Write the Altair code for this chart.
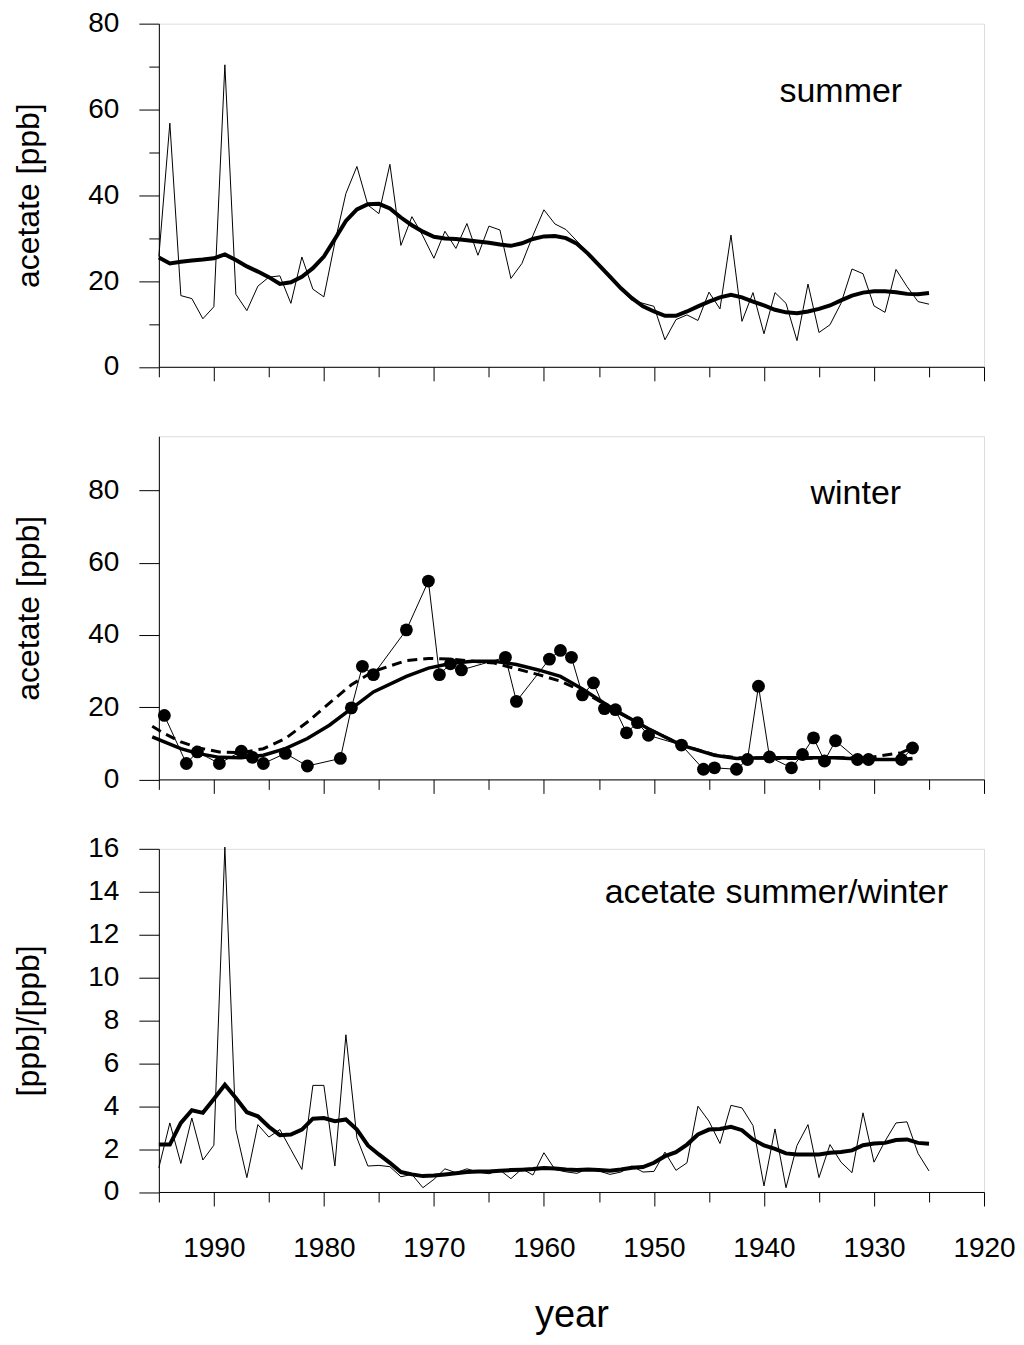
import altair as alt
import pandas as pd

# ---------------- data ----------------
years = list(range(1995, 1924, -1))  # 1995 ... 1925

summer_raw = [25.7, 56.8, 16.6, 15.9, 11.2, 14.0, 70.4, 16.9, 13.1, 18.8,
              20.9, 21.2, 14.8, 25.6, 18.1, 16.3, 29.0, 40.4, 46.7, 37.7,
              35.7, 47.2, 28.3, 35.0, 30.5, 25.3, 31.6, 27.6, 33.4, 26.0,
              32.8, 31.9, 20.6, 24.1, 30.6, 36.6, 33.3, 32.0, 29.3, 26.4,
              23.4, 20.6, 17.9, 15.5, 14.8, 14.1, 6.3, 11.0, 12.1, 10.8,
              17.4, 13.5, 30.7, 10.6, 17.3, 7.7, 17.3, 14.8, 6.1, 19.3,
              8.0, 9.8, 14.8, 22.8, 21.7, 14.2, 12.7, 22.7, 18.7, 15.2,
              14.6]
summer_smooth = [25.5, 24.1, 24.5, 24.8, 25.0, 25.3, 26.2, 24.9, 23.4, 22.2,
                 20.9, 19.3, 19.7, 21.0, 23.0, 25.7, 29.8, 34.0, 36.7, 37.9,
                 38.0, 36.9, 34.8, 33.0, 31.5, 30.3, 29.9, 29.8, 29.5, 29.2,
                 28.9, 28.5, 28.2, 28.8, 29.8, 30.4, 30.5, 30.0, 28.7, 26.4,
                 23.7, 21.0, 18.3, 16.0, 14.1, 12.9, 11.9, 11.9, 12.9, 14.1,
                 15.2, 16.2, 16.8, 16.2, 15.2, 14.3, 13.3, 12.7, 12.5, 12.9,
                 13.5, 14.3, 15.5, 16.6, 17.3, 17.6, 17.6, 17.4, 17.0, 16.9,
                 17.2]

winter_years = [1994.5, 1992.5, 1991.5, 1989.5, 1987.5, 1986.5, 1985.5, 1983.5,
                1981.5, 1978.5, 1977.5, 1976.5, 1975.5, 1972.5, 1970.5, 1969.5,
                1968.5, 1967.5, 1963.5, 1962.5, 1959.5, 1958.5, 1957.5, 1956.5,
                1955.5, 1954.5, 1953.5, 1952.5, 1951.5, 1950.5, 1947.5, 1945.5,
                1944.5, 1942.5, 1941.5, 1940.5, 1939.5, 1937.5, 1936.5, 1935.5,
                1934.5, 1933.5, 1931.5, 1930.5, 1927.5, 1926.5]
winter_vals = [17.7, 4.4, 7.6, 4.4, 7.8, 6.1, 4.4, 7.2,
               3.7, 5.8, 19.8, 31.3, 29.0, 41.4, 54.9, 29.0,
               32.0, 30.3, 33.8, 21.6, 33.3, 35.7, 33.8, 23.4,
               26.7, 19.6, 19.3, 12.9, 15.7, 12.2, 9.5, 2.8,
               3.2, 2.8, 5.5, 25.8, 6.2, 3.2, 6.9, 11.5,
               5.1, 10.7, 5.5, 5.5, 5.5, 8.7]

fit_years = [1995.6, 1994.5, 1993.0, 1991.5, 1989.5, 1987.5, 1985.5, 1983.5,
             1981.5, 1979.5, 1977.5, 1975.5, 1972.5, 1970.5, 1968.5, 1966.5,
             1964.5, 1962.5, 1960.5, 1958.5, 1956.5, 1953.5, 1950.5, 1947.5,
             1944.5, 1942.5, 1939.5, 1936.5, 1933.5, 1930.5, 1927.5, 1926.5]
winter_fit_solid = [11.8, 10.4, 8.5, 7.2, 6.1, 6.0, 6.7, 8.5,
                    11.3, 15.0, 19.6, 24.2, 28.5, 30.8, 32.1, 32.7,
                    32.7, 31.8, 30.3, 28.5, 25.0, 19.1, 14.0, 9.5,
                    6.7, 5.8, 6.0, 6.0, 6.0, 5.5, 5.5, 5.8]
winter_fit_dashed = [14.7, 12.7, 10.4, 8.8, 7.6, 7.4, 8.5, 11.3,
                     15.9, 21.1, 26.2, 29.9, 32.9, 33.5, 33.3, 32.7,
                     32.2, 30.6, 29.0, 27.2, 24.4, 19.0, 14.0, 9.5,
                     6.8, 6.0, 5.8, 5.8, 6.0, 6.0, 7.4, 8.8]

ratio_raw = [1.13, 3.22, 1.33, 3.45, 1.49, 2.18, 16.08, 2.91, 0.67, 3.14,
             2.56, 2.91, 1.98, 1.05, 4.97, 4.97, 1.21, 7.33, 2.52, 1.21,
             1.24, 1.18, 0.71, 0.82, 0.20, 0.59, 1.08, 0.90, 1.08, 0.93,
             0.85, 1.02, 0.62, 1.08, 0.79, 1.83, 1.05, 0.94, 0.87, 1.08,
             0.98, 0.82, 0.93, 1.21, 0.93, 0.96, 1.86, 1.01, 1.36, 4.00,
             3.30, 2.26, 4.04, 3.92, 3.10, 0.28, 2.94, 0.20, 2.17, 3.14,
             0.67, 2.21, 1.39, 0.90, 3.69, 1.39, 2.37, 3.22, 3.27, 1.80,
             0.98]
ratio_smooth = [2.21, 2.21, 3.22, 3.81, 3.69, 4.34, 5.00, 4.38, 3.72, 3.53,
                3.04, 2.65, 2.68, 2.91, 3.42, 3.45, 3.30, 3.38, 2.91, 2.17,
                1.75, 1.36, 0.93, 0.82, 0.74, 0.77, 0.82, 0.87, 0.93, 0.96,
                0.96, 0.99, 1.02, 1.04, 1.07, 1.12, 1.10, 1.05, 1.02, 1.05,
                1.02, 0.99, 1.05, 1.13, 1.16, 1.36, 1.67, 1.86, 2.21, 2.68,
                2.91, 2.94, 3.04, 2.88, 2.45, 2.17, 2.01, 1.80, 1.75, 1.75,
                1.75, 1.83, 1.86, 1.94, 2.18, 2.26, 2.29, 2.42, 2.45, 2.29,
                2.25]

x_ticks = list(range(1995, 1919, -5))
y_ticks_top = list(range(0, 81, 10))
y_ticks_mid = list(range(0, 91, 10))
y_ticks_bot = list(range(0, 17, 1))

# ---------------- layout / style ----------------
W = 826
H = 343.5
FONT = "Liberation Sans"

x_scale = alt.Scale(domain=[1995, 1920], nice=False, zero=False)


def x_axis(show_labels):
    kw = dict(values=x_ticks,
              tickSize={"condition": {"test": "datum.value % 10 === 0", "value": 14}, "value": 10},
              grid=False, domainColor="black", tickColor="black",
              labelFlush=False, labelOverlap=False)
    if show_labels:
        kw.update(labelExpr="datum.value % 10 === 0 ? format(datum.value, 'd') : ''",
                  labelFontSize=28, labelPadding=29, labelFont=FONT, labelColor="black",
                  titleFontSize=38, titleFont=FONT, titleFontWeight="normal",
                  titleBaseline="alphabetic", titleY=135, titleColor="black")
    else:
        kw.update(labels=False)
    return alt.Axis(**kw)


def y_axis(values, major):
    return alt.Axis(values=values,
                    tickSize={"condition": {"test": f"datum.value % {major} === 0", "value": 20}, "value": 10},
                    labelExpr=f"datum.value % {major} === 0 ? datum.label : ''",
                    labelPadding=20, labelFontSize=28, labelFont=FONT, labelColor="black",
                    labelFlush=False, labelOverlap=False, grid=False,
                    domainColor="black", tickColor="black",
                    titleFontSize=32, titleFont=FONT, titleFontWeight="normal", titleColor="black",
                    titleAngle=270, titleBaseline="alphabetic", titleX=-120)


def label(text, px, py):
    return alt.Chart(pd.DataFrame({"t": [text]})).mark_text(
        align="right", baseline="alphabetic", fontSize=34, font=FONT, color="black"
    ).encode(x=alt.value(px), y=alt.value(py), text="t:N")


# ---------------- summer ----------------
summer_df = pd.DataFrame({"year": years, "raw": summer_raw, "smooth": summer_smooth})
ys_top = alt.Scale(domain=[0, 80], nice=False, zero=False)
sb = alt.Chart(summer_df)
top = alt.layer(
    sb.mark_line(color="black", strokeWidth=1).encode(
        x=alt.X("year:Q", scale=x_scale, axis=x_axis(False), title=None),
        y=alt.Y("raw:Q", scale=ys_top, axis=y_axis(y_ticks_top, 20), title="acetate [ppb]")),
    sb.mark_line(color="black", strokeWidth=4).encode(
        x=alt.X("year:Q", scale=x_scale), y=alt.Y("smooth:Q", scale=ys_top)),
    label("summer", 744, 78),
).properties(width=W, height=H)

# ---------------- winter ----------------
winter_df = pd.DataFrame({"year": winter_years, "val": winter_vals})
fit_df = pd.DataFrame({"year": fit_years, "solid": winter_fit_solid, "dashed": winter_fit_dashed})
ys_mid = alt.Scale(domain=[0, 95], nice=False, zero=False)
wb = alt.Chart(winter_df)
fb = alt.Chart(fit_df)
mid = alt.layer(
    wb.mark_line(color="black", strokeWidth=1).encode(
        x=alt.X("year:Q", scale=x_scale, axis=x_axis(False), title=None),
        y=alt.Y("val:Q", scale=ys_mid, axis=y_axis(y_ticks_mid, 20), title="acetate [ppb]")),
    fb.mark_line(color="black", strokeWidth=3, strokeDash=[10, 6]).encode(
        x=alt.X("year:Q", scale=x_scale), y=alt.Y("dashed:Q", scale=ys_mid)),
    fb.mark_line(color="black", strokeWidth=3.5).encode(
        x=alt.X("year:Q", scale=x_scale), y=alt.Y("solid:Q", scale=ys_mid)),
    wb.mark_circle(color="black", opacity=1, size=165).encode(
        x=alt.X("year:Q", scale=x_scale), y=alt.Y("val:Q", scale=ys_mid)),
    label("winter", 743, 68),
).properties(width=W, height=H)

# ---------------- ratio ----------------
ratio_df = pd.DataFrame({"year": years, "raw": ratio_raw, "smooth": ratio_smooth})
ys_bot = alt.Scale(domain=[0, 16], nice=False, zero=False)
rb = alt.Chart(ratio_df)
bot = alt.layer(
    rb.mark_line(color="black", strokeWidth=1).encode(
        x=alt.X("year:Q", scale=x_scale, axis=x_axis(True), title="year"),
        y=alt.Y("raw:Q", scale=ys_bot, axis=y_axis(y_ticks_bot, 2), title="[ppb]/[ppb]")),
    rb.mark_line(color="black", strokeWidth=4).encode(
        x=alt.X("year:Q", scale=x_scale), y=alt.Y("smooth:Q", scale=ys_bot)),
    label("acetate summer/winter", 790, 54),
).properties(width=W, height=H)

chart = alt.vconcat(top, mid, bot, spacing=69, bounds="flush").properties(
    padding={"left": 4, "top": 0, "right": 0, "bottom": 0}
).configure_view(stroke="#555555", strokeWidth=1).configure(background="white")

chart.save("out.html", embed_options={"renderer": "svg", "actions": False})
